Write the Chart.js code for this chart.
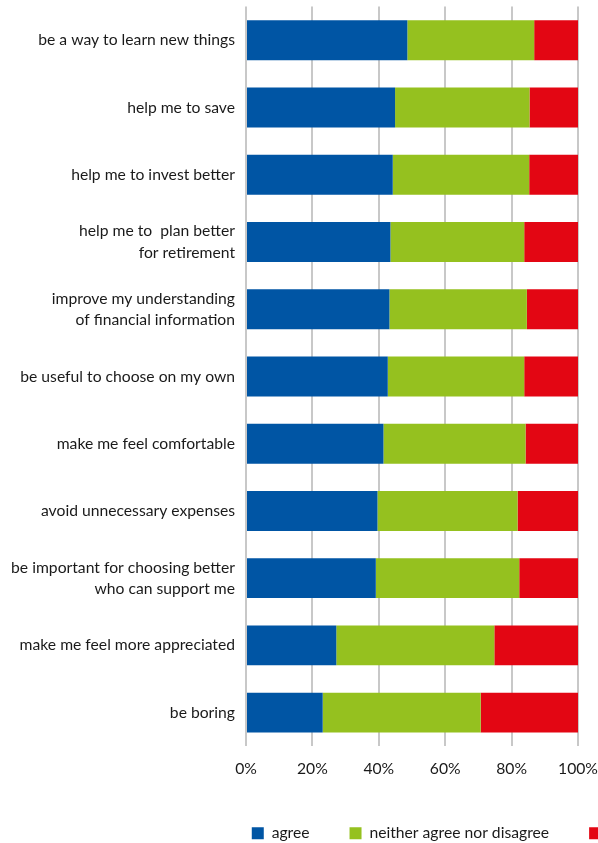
<!DOCTYPE html>
<html>
<head>
<meta charset="utf-8">
<script src="https://cdn.jsdelivr.net/npm/chart.js@4/dist/chart.umd.min.js"></script>
<style>
  html, body { margin: 0; padding: 0; background: #fff; width: 598px; height: 843px; overflow: hidden; }
  #wrap { position: absolute; left: 0; top: -15px; height: 866px; }
</style>
</head>
<body>
<div id="wrap"><canvas id="c"></canvas></div>
<script>
// Statements, top to bottom
const categories = [
  'be a way to learn new things',
  'help me to save',
  'help me to invest better',
  ['help me to  plan better', 'for retirement'],
  ['improve my understanding', 'of financial information'],
  'be useful to choose on my own',
  'make me feel comfortable',
  'avoid unnecessary expenses',
  ['be important for choosing better', 'who can support me'],
  'make me feel more appreciated',
  'be boring'
];

// Share of answers, in percent
const agree    = [48.6, 44.9, 44.2, 43.5, 43.2, 42.7, 41.4, 39.6, 39.1, 27.2, 23.1];
const neither  = [38.2, 40.5, 41.1, 40.3, 41.4, 41.1, 42.8, 42.2, 43.2, 47.6, 47.6];
const disagree = [13.2, 14.6, 14.7, 16.2, 15.4, 16.2, 15.8, 18.2, 17.7, 25.2, 29.3];

const seriesNames = ['agree', 'neither agree nor disagree', 'disagree'];
const seriesColors = ['#0055a4', '#95c11f', '#e30613'];
const xTickValues = [0, 20, 40, 60, 80, 100];

const FONT_FAMILY = "Lato, 'Open Sans', sans-serif";
const FONT_SIZE = 15.7;
const TEXT_COLOR = '#1a1a1a';
const LEGEND_PAD = 40;
const LEGEND_BOX = 12;
const LEGEND_START = 252;
const PLOT_LEFT = 246;
const PLOT_RIGHT = 578;

// Width of the legend row, so the row starts where the plot starts
const mctx = document.createElement('canvas').getContext('2d');
mctx.font = `${FONT_SIZE}px ${FONT_FAMILY}`;
let rowWidth = 0;
seriesNames.forEach(n => { rowWidth += LEGEND_BOX + FONT_SIZE / 2 + mctx.measureText(n).width + LEGEND_PAD; });
const CANVAS_W = Math.round(2 * LEGEND_START - LEGEND_PAD + rowWidth);
document.getElementById('wrap').style.width = CANVAS_W + 'px';

const seriesData = [agree, neither, disagree];

new Chart(document.getElementById('c'), {
  type: 'bar',
  data: {
    labels: categories,
    datasets: seriesNames.map((name, i) => ({
      label: name,
      data: seriesData[i],
      backgroundColor: seriesColors[i],
      borderWidth: 0,
      barPercentage: 0.593,
      categoryPercentage: 1
    }))
  },
  options: {
    indexAxis: 'y',
    responsive: true,
    maintainAspectRatio: false,
    animation: false,
    layout: { padding: { top: 5, left: 0, right: 0, bottom: 0 } },
    plugins: {
      tooltip: { enabled: false },
      legend: {
        position: 'bottom',
        labels: {
          boxWidth: LEGEND_BOX,
          boxHeight: LEGEND_BOX,
          padding: LEGEND_PAD,
          color: TEXT_COLOR,
          font: { family: FONT_FAMILY, size: FONT_SIZE }
        }
      }
    },
    scales: {
      x: {
        type: 'linear',
        stacked: true,
        min: 0,
        max: 100,
        position: 'bottom',
        afterBuildTicks: s => { s.ticks = xTickValues.map(v => ({ value: v })); },
        ticks: {
          callback: v => v + '%',
          color: TEXT_COLOR,
          padding: 13,
          maxRotation: 0,
          font: { family: FONT_FAMILY, size: FONT_SIZE }
        },
        grid: { color: '#c8c8c8', lineWidth: 2, drawTicks: false },
        border: { display: false },
        afterFit: s => { s.height = 39; }
      },
      y: {
        type: 'category',
        stacked: true,
        grid: { display: false, drawTicks: false },
        border: { display: false },
        ticks: {
          color: TEXT_COLOR,
          padding: 11,
          font: { family: FONT_FAMILY, size: FONT_SIZE, lineHeight: 1.35 }
        },
        afterFit: s => { s.width = PLOT_LEFT; }
      },
      yRight: {
        type: 'linear',
        position: 'right',
        display: true,
        grid: { display: false, drawTicks: false },
        border: { display: false },
        ticks: { display: false },
        afterFit: s => { s.width = CANVAS_W - PLOT_RIGHT; }
      }
    }
  }
});
</script>
</body>
</html>
